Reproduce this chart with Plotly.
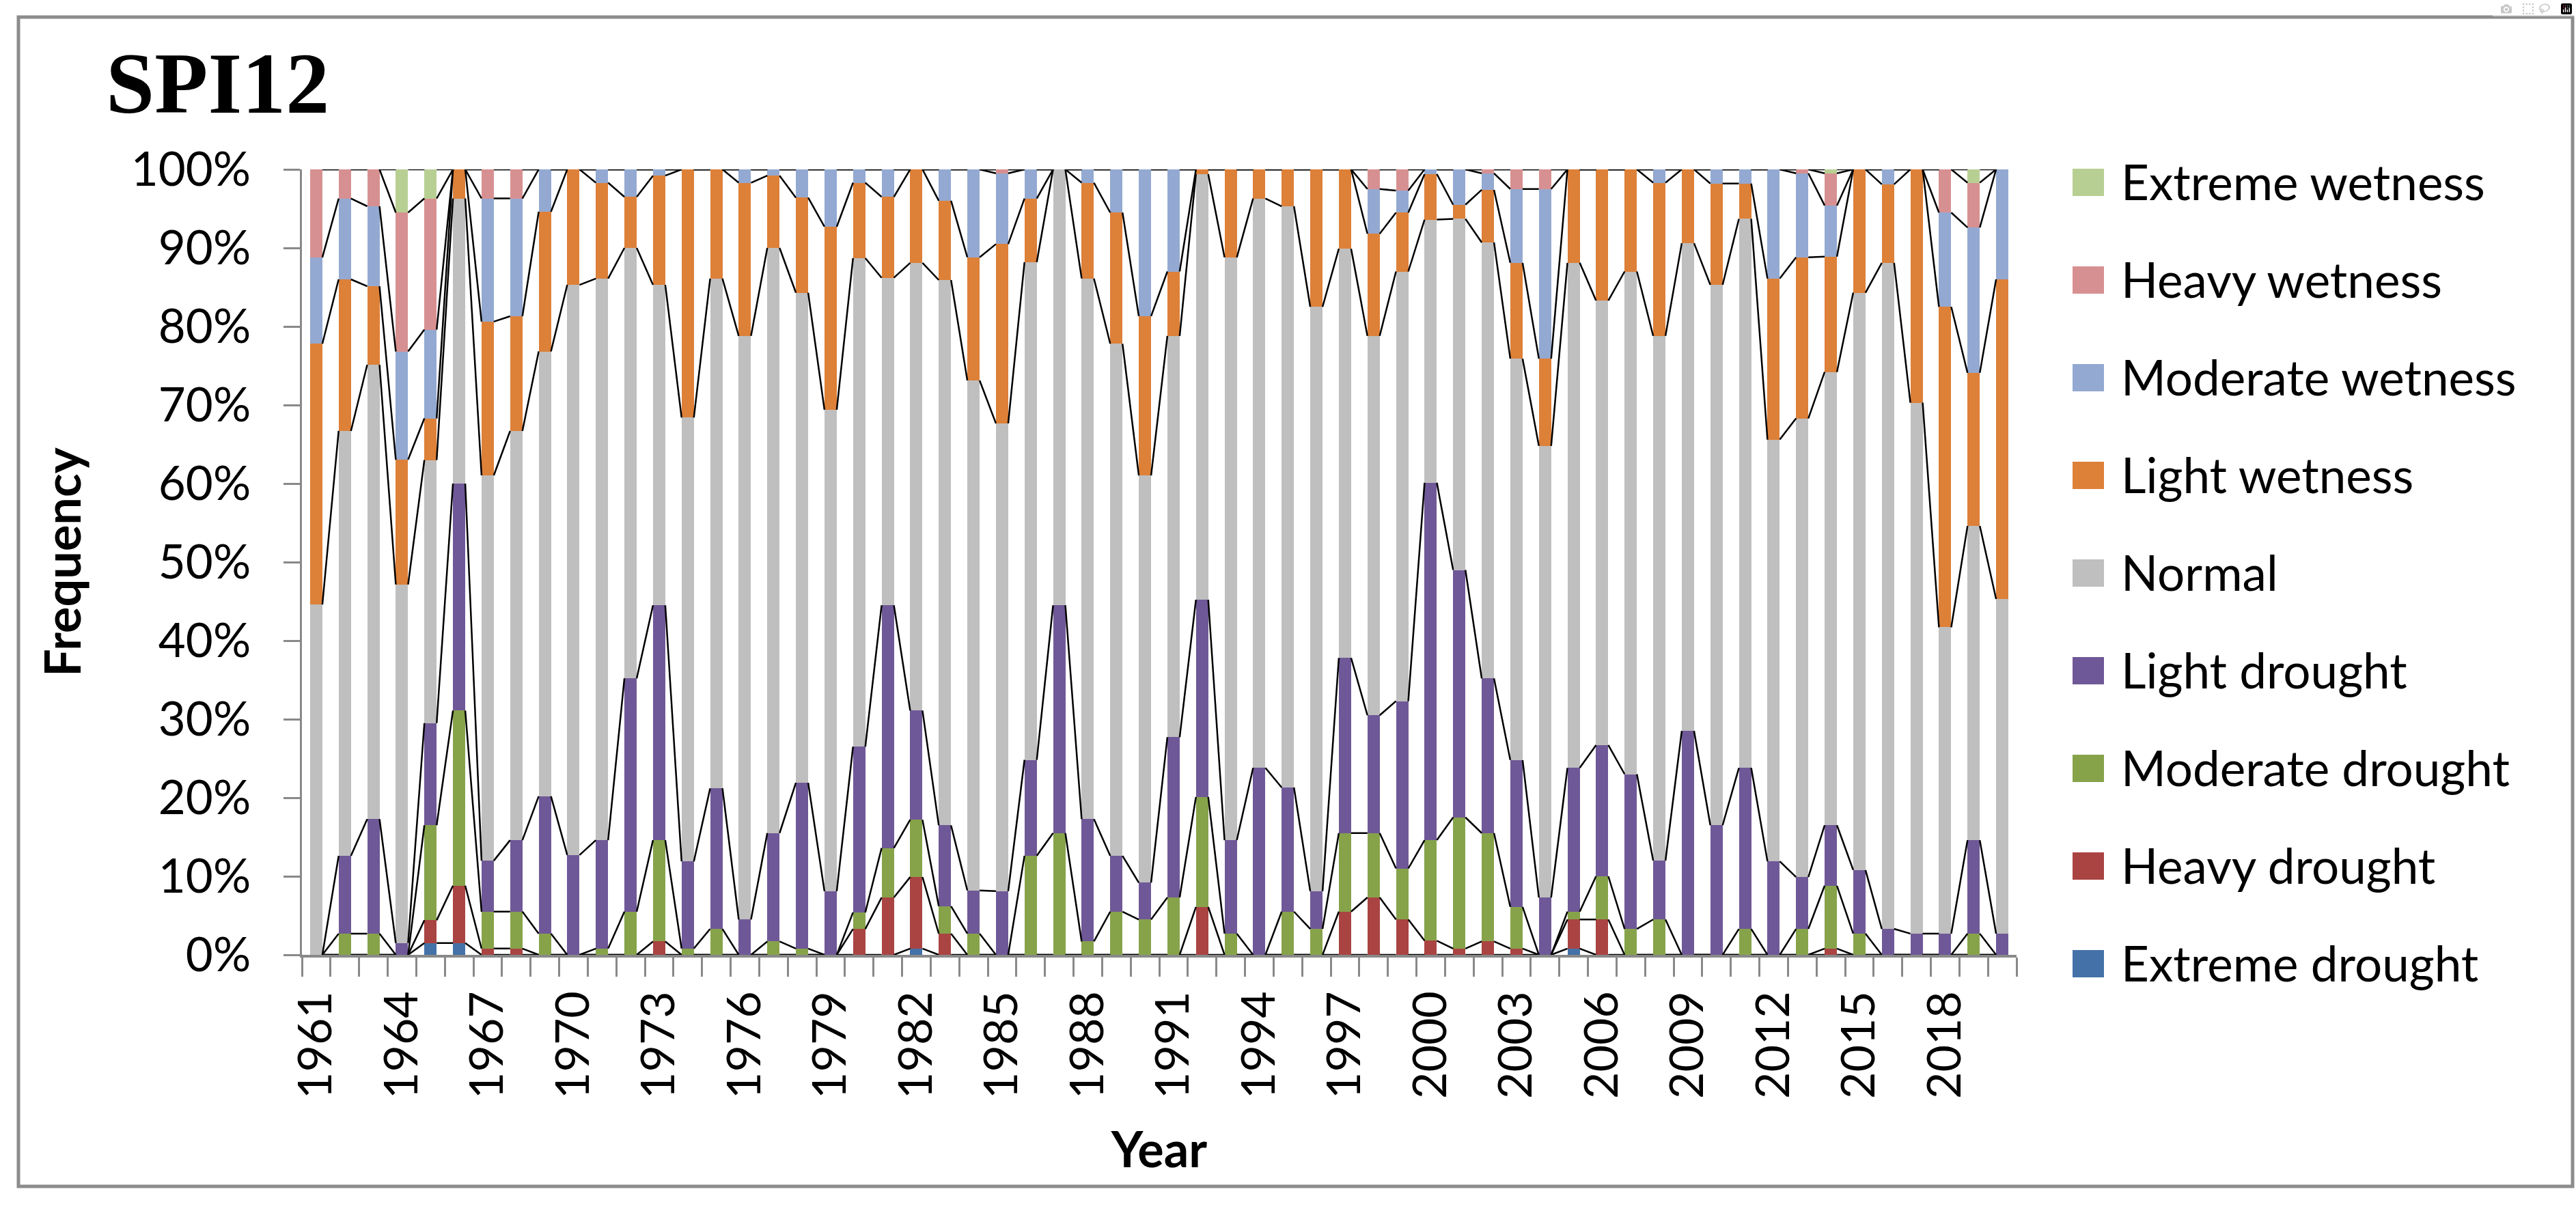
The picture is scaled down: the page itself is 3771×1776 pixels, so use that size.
import plotly.graph_objects as go

# ---------------- data ----------------
years = list(range(1961, 2021))
tick_years = list(range(1961, 2021, 3))
y_ticks = list(range(0, 101, 10))

categories = ["Extreme drought", "Heavy drought", "Moderate drought", "Light drought",
              "Normal", "Light wetness", "Moderate wetness", "Heavy wetness", "Extreme wetness"]

extreme_drought = [0, 0, 0, 0, 1.5, 1.5, 0, 0, 0, 0,
                   0, 0, 0, 0, 0, 0, 0, 0, 0, 0,
                   0, 0.8, 0, 0, 0, 0, 0, 0, 0, 0,
                   0, 0, 0, 0, 0, 0, 0, 0, 0, 0,
                   0, 0, 0, 0, 0.8, 0, 0, 0, 0, 0,
                   0, 0, 0, 0, 0, 0, 0, 0, 0, 0]
heavy_drought = [0, 0, 0, 0, 2.9, 7.3, 0.8, 0.8, 0, 0,
                 0, 0, 1.7, 0, 0, 0, 0, 0, 0, 3.3,
                 7.3, 9.1, 2.7, 0, 0, 0, 0, 0, 0, 0,
                 0, 6.1, 0, 0, 0, 0, 5.5, 7.3, 4.5, 1.8,
                 0.8, 1.7, 0.8, 0, 3.7, 4.5, 0, 0, 0, 0,
                 0, 0, 0, 0.8, 0, 0, 0, 0, 0, 0]
moderate_drought = [0, 2.7, 2.7, 0, 12.1, 22.3, 4.7, 4.7, 2.7, 0,
                    0.8, 5.5, 12.9, 0.8, 3.3, 0, 1.7, 0.8, 0, 2.1,
                    6.3, 7.3, 3.5, 2.7, 0, 12.6, 15.5, 1.7, 5.5, 4.5,
                    7.3, 14.0, 2.7, 0, 5.5, 3.3, 10.0, 8.2, 6.5, 12.8,
                    16.7, 13.8, 5.3, 0, 1.0, 5.5, 3.3, 4.5, 0, 0,
                    3.3, 0, 3.3, 8.0, 2.7, 0, 0, 0, 2.7, 0]
light_drought = [0, 9.9, 14.6, 1.5, 13.0, 28.9, 6.5, 9.1, 17.5, 12.7,
                 13.8, 29.7, 29.9, 11.1, 17.9, 4.5, 13.8, 21.1, 8.1, 21.1,
                 30.9, 13.9, 10.3, 5.5, 8.1, 12.2, 29.0, 15.6, 7.1, 4.7,
                 20.4, 25.1, 11.9, 23.8, 15.8, 4.8, 22.3, 15.0, 21.3, 45.5,
                 31.5, 19.7, 18.7, 7.3, 18.3, 16.7, 19.7, 7.5, 28.5, 16.5,
                 20.5, 11.9, 6.6, 7.7, 8.1, 3.3, 2.7, 2.7, 11.9, 2.7]
normal = [44.6, 54.1, 57.9, 45.7, 33.5, 36.3, 49.1, 52.1, 56.7, 72.6,
          71.5, 54.8, 40.8, 56.5, 64.9, 74.3, 74.5, 62.4, 61.3, 62.2,
          41.7, 57.0, 69.5, 65.0, 59.5, 63.3, 55.5, 68.9, 65.2, 51.9,
          51.1, 54.2, 74.2, 72.5, 74.0, 74.4, 52.1, 48.3, 54.7, 33.5,
          44.7, 55.5, 51.1, 57.5, 64.3, 56.6, 64.0, 66.8, 62.1, 68.8,
          69.9, 53.7, 58.4, 57.7, 73.5, 84.8, 67.6, 39.0, 40.0, 42.6]
light_wetness = [33.2, 19.3, 10.0, 15.9, 5.3, 3.7, 19.6, 14.6, 17.8, 14.7,
                 12.2, 6.5, 13.9, 31.6, 13.9, 19.5, 9.2, 12.1, 23.3, 9.6,
                 10.3, 11.9, 10.1, 15.7, 22.8, 8.1, 0, 12.2, 16.7, 20.3,
                 8.2, 0.6, 11.2, 3.7, 4.7, 17.5, 10.1, 13.0, 7.5, 5.8,
                 1.8, 6.7, 12.2, 11.1, 11.9, 16.7, 13.0, 19.5, 9.4, 12.9,
                 4.5, 20.5, 20.5, 14.7, 15.7, 10.0, 29.7, 40.8, 19.5, 40.7]
moderate_wetness = [11.0, 10.3, 10.2, 13.8, 11.3, 0, 15.7, 15.0, 5.4, 0,
                    1.7, 3.5, 0.8, 0, 0, 1.7, 0.8, 3.6, 7.3, 1.7,
                    3.5, 0, 4.0, 11.2, 9.0, 3.7, 0, 1.7, 5.5, 18.7,
                    13.0, 0, 0, 0, 0, 0, 0, 5.7, 2.8, 0.6,
                    4.5, 2.1, 9.4, 21.6, 0, 0, 0, 1.7, 0, 1.8,
                    1.8, 13.9, 10.7, 6.5, 0, 1.9, 0, 12.0, 18.5, 14.0]
heavy_wetness = [11.2, 3.7, 4.7, 17.7, 16.7, 0, 3.7, 3.7, 0, 0,
                 0, 0, 0, 0, 0, 0, 0, 0, 0, 0,
                 0, 0, 0, 0, 0.5, 0, 0, 0, 0, 0,
                 0, 0, 0, 0, 0, 0, 0, 2.5, 2.7, 0,
                 0, 0.5, 2.5, 2.5, 0, 0, 0, 0, 0, 0,
                 0, 0, 0.5, 4.1, 0, 0, 0, 5.5, 5.7, 0]
extreme_wetness = [0, 0, 0, 5.5, 3.7, 0, 0, 0, 0, 0,
                   0, 0, 0, 0, 0, 0, 0, 0, 0, 0,
                   0, 0, 0, 0, 0, 0, 0, 0, 0, 0,
                   0, 0, 0, 0, 0, 0, 0, 0, 0, 0,
                   0, 0, 0, 0, 0, 0, 0, 0, 0, 0,
                   0, 0, 0, 0.5, 0, 0, 0, 0, 1.7, 0]

series = [extreme_drought, heavy_drought, moderate_drought, light_drought, normal,
          light_wetness, moderate_wetness, heavy_wetness, extreme_wetness]

colors = ["#4472A8", "#A94442", "#86A34A", "#6F5897", "#BFBFBF",
          "#DD8038", "#93A9D2", "#D79091", "#B8CF93"]

# ---------------- geometry ----------------
W, H = 3771, 1776
PL, PR, PT, PB = 442, 2952, 248, 1398   # plot area in pixels


def px(x):
    return (x - PL) / (PR - PL)


def py(y):
    return (PB - y) / (PB - PT)


FONT = "Lato, Carlito, Calibri, sans-serif"
AXIS_GRAY = "#898989"
BAR_W = 0.43

fig = go.Figure()

for name, vals, col in zip(categories, series, colors):
    fig.add_trace(go.Bar(x=years, y=vals, name=name, width=BAR_W,
                         marker=dict(color=col, line=dict(width=0)),
                         showlegend=False))

# Excel-style series lines (computed from the stacked, normalised data)
totals = [sum(s[i] for s in series) for i in range(len(years))]
cum = [0.0] * len(years)
lx, ly = [], []
for vals in series:
    cum = [c + v for c, v in zip(cum, vals)]
    pct = [100.0 * c / t for c, t in zip(cum, totals)]
    for i in range(len(years) - 1):
        lx += [years[i] + BAR_W / 2, years[i + 1] - BAR_W / 2, None]
        ly += [pct[i], pct[i + 1], None]
fig.add_trace(go.Scatter(x=lx, y=ly, mode="lines", line=dict(color="black", width=2.5),
                         hoverinfo="skip", showlegend=False, cliponaxis=False))

shapes = []
annotations = []

# outer chart border
shapes.append(dict(type="rect", xref="paper", yref="paper",
                   x0=px(27), x1=px(3766), y0=py(1737), y1=py(25),
                   line=dict(color="#8C8C8C", width=5), fillcolor="rgba(0,0,0,0)",
                   layer="below"))

# title
annotations.append(dict(text="<b>SPI12</b>", xref="paper", yref="paper",
                        x=px(153), y=py(122), xanchor="left", yanchor="middle",
                        showarrow=False,
                        font=dict(family="Liberation Serif, Times New Roman, serif",
                                  size=128, color="black")))

# legend (top to bottom: Extreme wetness ... Extreme drought)
for k, idx in enumerate(range(len(categories) - 1, -1, -1)):
    yc = 267 + 143 * k
    shapes.append(dict(type="rect", xref="paper", yref="paper",
                       x0=px(3034), x1=px(3080), y0=py(yc + 20), y1=py(yc - 20),
                       fillcolor=colors[idx], line=dict(width=0)))
    annotations.append(dict(text=categories[idx], xref="paper", yref="paper",
                            x=px(3103), y=py(yc - 2), xanchor="left", yanchor="middle",
                            showarrow=False, font=dict(family=FONT, size=71, color="black")))

fig.update_layout(
    width=W, height=H,
    margin=dict(l=PL, r=W - PR, t=PT, b=H - PB, autoexpand=False),
    paper_bgcolor="white", plot_bgcolor="white",
    barmode="stack", barnorm="percent", bargap=0,
    showlegend=False,
    shapes=shapes, annotations=annotations,
    font=dict(family=FONT, color="black"),
    xaxis=dict(range=[years[0] - 0.5, years[-1] + 0.5], fixedrange=True,
               tickmode="array", tickvals=tick_years, ticktext=[str(y) for y in tick_years],
               tickangle=-90, ticks="", ticklabelstandoff=22,
               tickfont=dict(family=FONT, size=68, color="black"),
               minor=dict(tickmode="array",
                          tickvals=[y - 0.5 for y in years] + [years[-1] + 0.5],
                          ticks="outside", ticklen=28, tickwidth=3, tickcolor=AXIS_GRAY,
                          showgrid=False),
               showline=True, linecolor=AXIS_GRAY, linewidth=4,
               showgrid=False, zeroline=False,
               title=dict(text="<b>Year</b>", standoff=52,
                          font=dict(family=FONT, size=72, color="black"))),
    yaxis=dict(range=[0, 100], fixedrange=True,
               tickmode="array", tickvals=y_ticks, ticktext=[f"{v}%" for v in y_ticks],
               ticks="outside", ticklen=24, tickwidth=3, tickcolor=AXIS_GRAY,
               ticklabelstandoff=34,
               tickfont=dict(family=FONT, size=69, color="black"),
               showline=True, linecolor=AXIS_GRAY, linewidth=3,
               showgrid=False, zeroline=False,
               title=dict(text="<b>Frequency</b>", standoff=50,
                          font=dict(family=FONT, size=72, color="black"))),
)

fig.write_html("out.html",
               post_script="document.body.style.margin='0';document.body.style.overflow='hidden';")
